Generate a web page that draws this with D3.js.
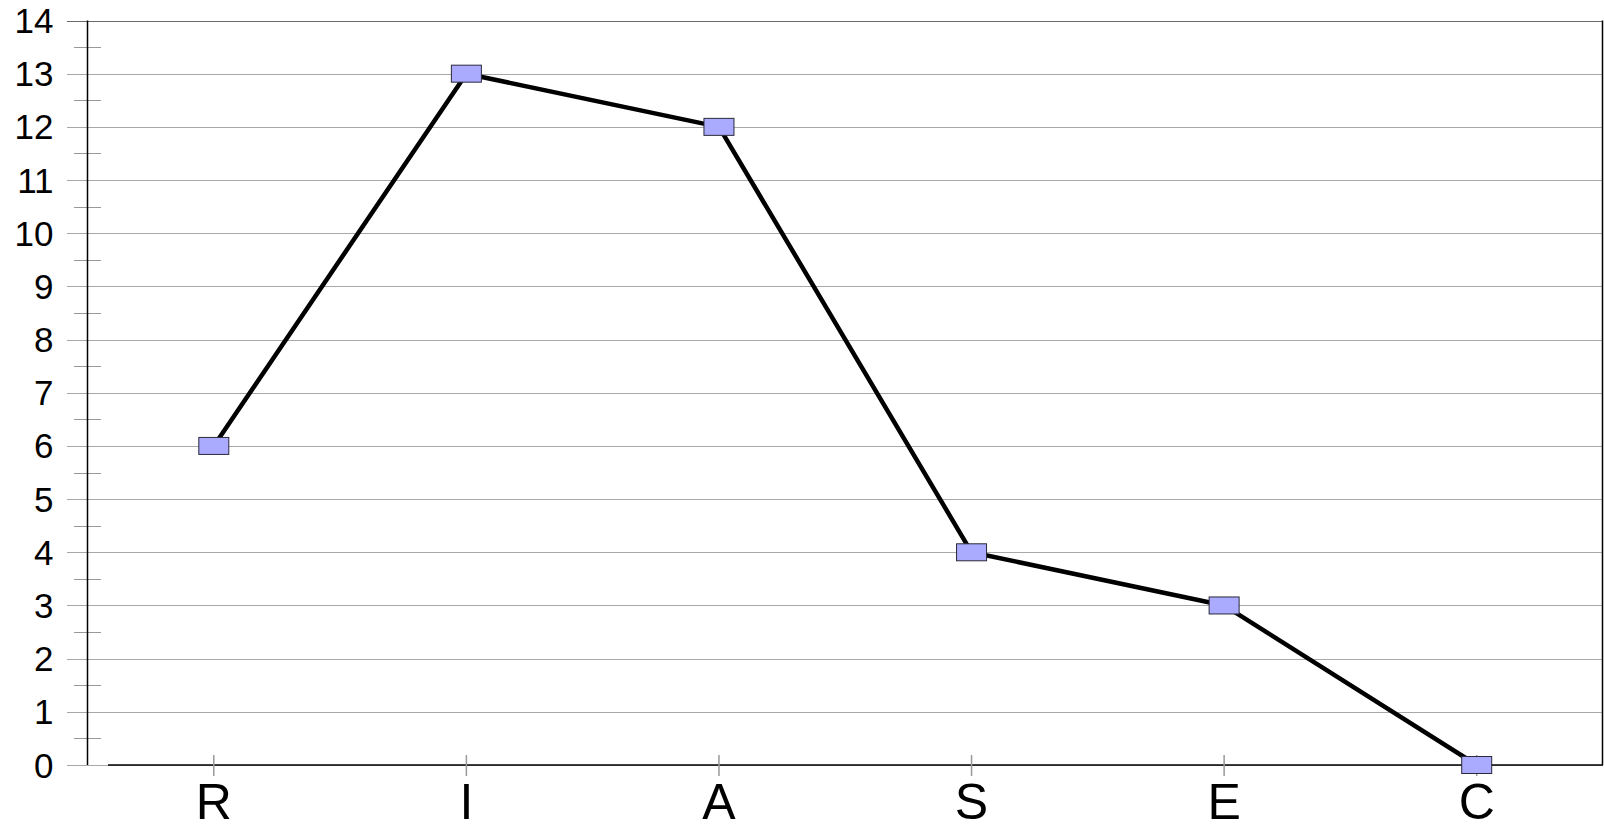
<!DOCTYPE html>
<html>
<head>
<meta charset="utf-8">
<script src="https://cdn.jsdelivr.net/npm/d3@7"></script>
<style>
  html, body { margin: 0; padding: 0; background: #fff; }
  svg { display: block; }
  text { font-family: "Liberation Sans", Arial, sans-serif; fill: #000; }
</style>
</head>
<body>
<svg id="chart" width="1604" height="830"></svg>
<script>
// RIASEC profile scores
const categories = ["R", "I", "A", "S", "E", "C"];
const scores = [6, 13, 12, 4, 3, 0];
const yTicks = [0, 1, 2, 3, 4, 5, 6, 7, 8, 9, 10, 11, 12, 13, 14];
const yMinorTicks = [0.5, 1.5, 2.5, 3.5, 4.5, 5.5, 6.5, 7.5, 8.5, 9.5, 10.5, 11.5, 12.5, 13.5];

const svg = d3.select("#chart");
const plotLeft = 87.5, plotRight = 1603, plotTop = 20.5, plotBottom = 765;

const x = d3.scalePoint().domain(categories).range([plotLeft, plotRight]).padding(0.5);
const y = d3.scaleLinear().domain([0, 14]).range([plotBottom, plotTop]);

// horizontal gridlines
svg.append("g").selectAll("line").data(yTicks).join("line")
  .attr("x1", 67).attr("x2", plotRight)
  .attr("y1", d => Math.round(y(d)) + 0.5).attr("y2", d => Math.round(y(d)) + 0.5)
  .attr("stroke", d => d === 14 ? "#6a6a6a" : "#a8a8a8")
  .attr("stroke-width", 1);

// minor ticks on the value axis
svg.append("g").selectAll("line").data(yMinorTicks).join("line")
  .attr("x1", 74).attr("x2", 101)
  .attr("y1", d => Math.round(y(d)) + 0.5).attr("y2", d => Math.round(y(d)) + 0.5)
  .attr("stroke", "#999").attr("stroke-width", 1);

// value axis labels
svg.append("g").selectAll("text").data(yTicks).join("text")
  .attr("x", 53.5).attr("y", d => y(d))
  .attr("text-anchor", "end").attr("dominant-baseline", "central")
  .attr("font-size", 35)
  .text(d => d);

// frame: left axis, bottom axis, right border
svg.append("line").attr("x1", plotLeft).attr("x2", plotLeft).attr("y1", plotTop).attr("y2", plotBottom)
  .attr("stroke", "#000").attr("stroke-width", 1.5);
svg.append("line").attr("x1", 108).attr("x2", plotRight).attr("y1", plotBottom).attr("y2", plotBottom)
  .attr("stroke", "#000").attr("stroke-width", 1.5);
svg.append("line").attr("x1", plotRight - 0.5).attr("x2", plotRight - 0.5).attr("y1", plotTop).attr("y2", plotBottom)
  .attr("stroke", "#000").attr("stroke-width", 1.5);

// category ticks
svg.append("g").selectAll("line").data(categories).join("line")
  .attr("x1", d => x(d)).attr("x2", d => x(d))
  .attr("y1", 755).attr("y2", 776)
  .attr("stroke", "#999").attr("stroke-width", 1.5);

// category labels
svg.append("g").selectAll("text").data(categories).join("text")
  .attr("x", d => x(d)).attr("y", 819)
  .attr("text-anchor", "middle")
  .attr("font-size", 50)
  .text(d => d);

// score line
const data = categories.map((c, i) => ({ c, v: scores[i] }));
svg.append("path").datum(data)
  .attr("fill", "none").attr("stroke", "#000").attr("stroke-width", 4.5)
  .attr("stroke-linejoin", "round")
  .attr("d", d3.line().x(d => x(d.c)).y(d => y(d.v)));

// square markers
svg.append("g").selectAll("rect").data(data).join("rect")
  .attr("x", d => x(d.c) - 15).attr("y", d => y(d.v) - 8.5)
  .attr("width", 30).attr("height", 17)
  .attr("fill", "#aaaaff").attr("stroke", "#2a2a3a").attr("stroke-width", 1);
</script>
</body>
</html>
